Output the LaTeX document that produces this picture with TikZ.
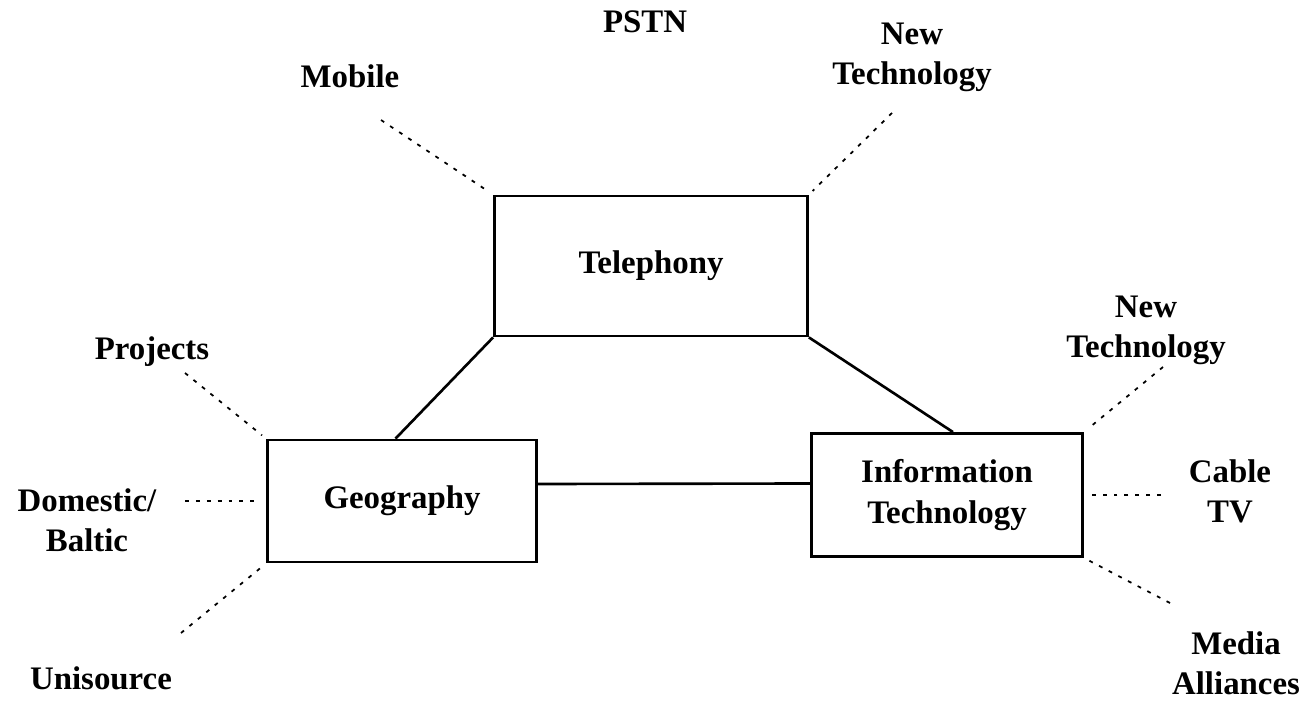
\documentclass[tikz,border=0pt]{standalone}
\usepackage{fontspec}
\setmainfont{Liberation Serif}
\usetikzlibrary{positioning}

\tikzset{
  unit/.style={draw, line width=1.6pt, align=center, inner sep=0pt,
    font=\bfseries\fontsize{18.7}{23}\selectfont},
  lbl/.style={align=center, inner sep=0pt, font=\bfseries\fontsize{18.7}{22.7}\selectfont},
  link/.style={line width=1.5pt},
  dlink/.style={line width=1pt, dash pattern=on 2.2pt off 4pt, shorten >=3pt}
}

\begin{document}
\begin{tikzpicture}[x=0.02cm, y=-0.02cm]
  \useasboundingbox (0,0) rectangle (1312,702);

  % Units
  \node[unit, minimum width=6.26cm, minimum height=2.8cm] (tel) at (651,266) {Telephony};
  \node[unit, minimum width=5.38cm, minimum height=2.44cm] (geo) at (402,501) {Geography};
  \node[unit, minimum width=5.42cm, minimum height=2.46cm] (it) at (947,495) {Information\\Technology};

  % Labels round the units
  \node[lbl] (pstn) at (645,22) {PSTN};
  \node[lbl] (mob) at (350,76) {Mobile};
  \node[lbl] (nt1) at (912,57) {New\\Technology};
  \node[lbl] (proj) at (152,352) {Projects};
  \node[lbl] (dom) at (87,520) {Domestic/\\Baltic};
  \node[lbl] (uni) at (101,678) {Unisource};
  \node[lbl] (nt2) at (1146,330) {New\\Technology};
  \node[lbl] (cab) at (1230,491) {Cable\\TV};
  \node[lbl] (med) at (1236,663) {Media\\Alliances};

  % Free ends of the dashed lines
  \coordinate (mob-e) at (381,120);
  \coordinate (nt1-e) at (892,113);
  \coordinate (proj-e) at (185,373);
  \coordinate (dom-e) at (185,501);
  \coordinate (uni-e) at (181,633);
  \coordinate (nt2-e) at (1163,367);
  \coordinate (cab-e) at (1161,495);
  \coordinate (med-e) at (1170,603);

  % Solid links
  \draw[link] (tel.south west) -- ([xshift=-0.13cm]geo.north);
  \draw[link] (tel.south east) -- ([xshift=0.12cm]it.north);
  \draw[link] ([yshift=0.34cm]geo.east) -- ([yshift=0.23cm]it.west);

  % Dashed links
  \foreach \e/\t in {mob-e/tel.north west, nt1-e/tel.north east,
                     proj-e/geo.north west, dom-e/geo.west, uni-e/geo.south west,
                     nt2-e/it.north east, cab-e/it.east, med-e/it.south east} {
    \draw[dlink] (\e) -- (\t);
  }
\end{tikzpicture}
\end{document}
